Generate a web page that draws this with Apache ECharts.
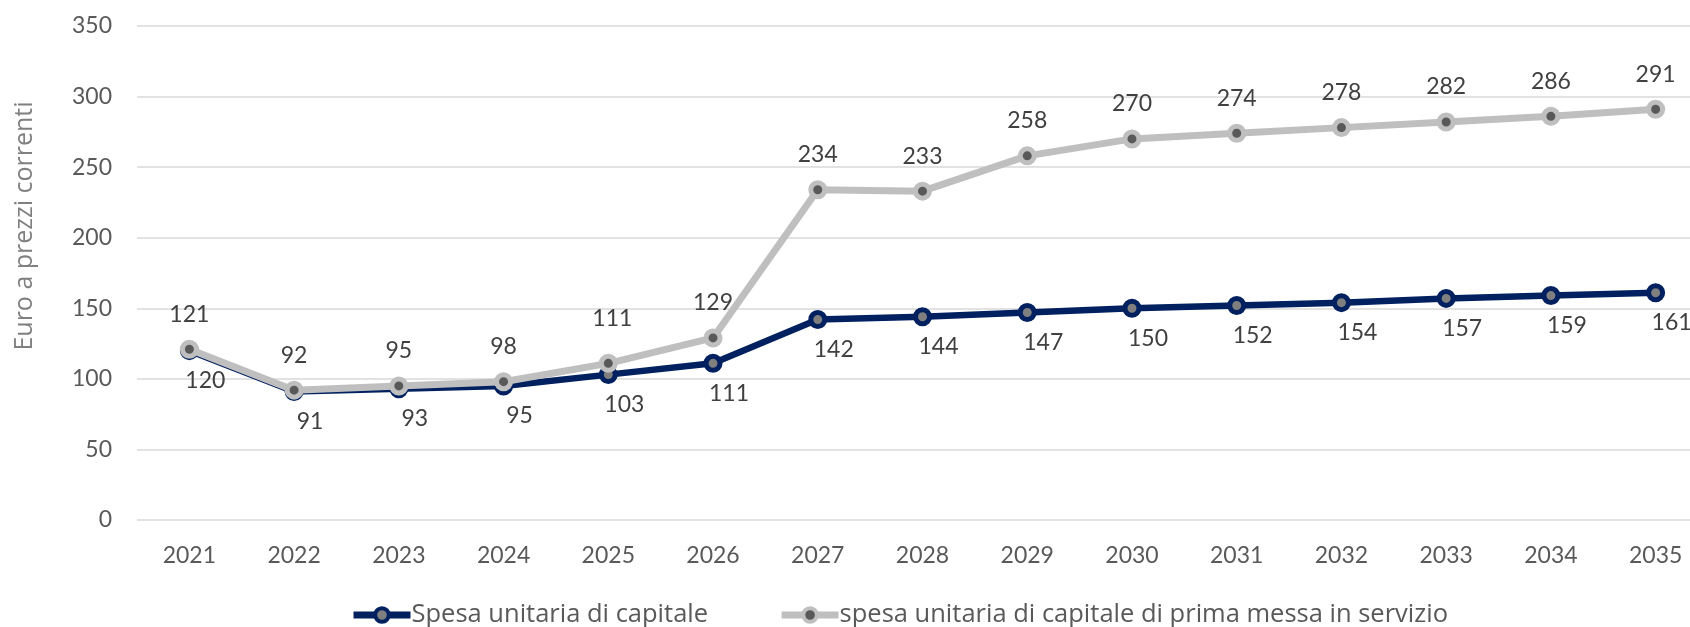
<!DOCTYPE html>
<html>
<head>
<meta charset="utf-8">
<script src="https://cdn.jsdelivr.net/npm/echarts@6/dist/echarts.min.js"></script>
<style>
  html, body { margin: 0; padding: 0; background: #fff; overflow: hidden; }
  /* il grafico originale è tagliato a destra: il div è più largo della finestra */
  #chart { width: 1708px; height: 627px; }
</style>
</head>
<body>
<div id="chart"></div>
<script>
  // dati
  const anni = ["2021", "2022", "2023", "2024", "2025", "2026", "2027", "2028",
    "2029", "2030", "2031", "2032", "2033", "2034", "2035"];
  const spesaCapitale = [120, 91, 93, 95, 103, 111, 142, 144, 147, 150, 152, 154, 157, 159, 161];
  const spesaPrimaMessa = [121, 92, 95, 98, 111, 129, 234, 233, 258, 270, 274, 278, 282, 286, 291];
  const yTicks = [0, 50, 100, 150, 200, 250, 300, 350];

  const nomeSerie1 = "Spesa unitaria di capitale";
  const nomeSerie2 = "spesa unitaria di capitale di prima messa in servizio";
  const titoloY = "Euro a prezzi correnti";

  const font = "Lato, 'Liberation Sans', sans-serif";
  const fontLegenda = "'Open Sans', 'DejaVu Sans', sans-serif";
  const testo = "#595959";

  const myChart = echarts.init(document.getElementById("chart"));

  // etichetta spostata per il 2025 (come nell'originale)
  const datiPrimaMessa = spesaPrimaMessa.map((v, i) => {
    if (anni[i] === "2025") {
      return { value: v, label: { distance: 24, offset: [4, 0] } };
    }
    return v;
  });

  const option = {
    animation: false,
    grid: { left: 137, right: 0, top: 26, bottom: 107 },
    graphic: [{
      type: "text",
      x: 25,
      y: 226,
      rotation: Math.PI / 2,
      style: {
        text: titoloY,
        fill: "#808080",
        font: "25px " + fontLegenda,
        align: "center",
        verticalAlign: "middle"
      }
    }],
    legend: {
      left: 350,
      top: 602,
      padding: 0,
      itemWidth: 57,
      itemHeight: 17,
      itemGap: 70,
      lineStyle: { width: 7 },
      itemStyle: { borderWidth: 4 },
      textStyle: { color: testo, fontSize: 25.5, fontFamily: fontLegenda, padding: [0, 0, 0, -4] },
      data: [nomeSerie1, nomeSerie2]
    },
    xAxis: {
      type: "category",
      data: anni,
      boundaryGap: true,
      axisLine: { show: false },
      axisTick: { show: false },
      axisLabel: { color: testo, fontSize: 23, fontFamily: font, margin: 24 }
    },
    yAxis: {
      type: "value",
      min: yTicks[0],
      max: yTicks[yTicks.length - 1],
      interval: yTicks[1] - yTicks[0],
      axisLine: { show: false },
      axisTick: { show: false },
      axisLabel: { color: testo, fontSize: 23, fontFamily: font, margin: 25 },
      splitLine: { lineStyle: { color: "#d9d9d9", width: 1.5 } }
    },
    series: [
      {
        name: nomeSerie1,
        type: "line",
        data: spesaCapitale,
        symbol: "circle",
        symbolSize: 14,
        lineStyle: { color: "#002060", width: 6.5 },
        itemStyle: { color: "#7f7f7f", borderColor: "#002060", borderWidth: 5 },
        label: {
          show: true,
          position: "bottom",
          distance: 9,
          offset: [16, 0],
          color: "#404040",
          fontSize: 23,
          fontFamily: font
        },
        z: 2
      },
      {
        name: nomeSerie2,
        type: "line",
        data: datiPrimaMessa,
        symbol: "circle",
        symbolSize: 14,
        lineStyle: { color: "#bfbfbf", width: 7 },
        itemStyle: { color: "#595959", borderColor: "#bfbfbf", borderWidth: 5 },
        label: {
          show: true,
          position: "top",
          distance: 14,
          offset: [0, 0],
          color: "#404040",
          fontSize: 23,
          fontFamily: font
        },
        z: 3
      }
    ]
  };

  myChart.clear();
  myChart.setOption(option);
</script>
</body>
</html>
